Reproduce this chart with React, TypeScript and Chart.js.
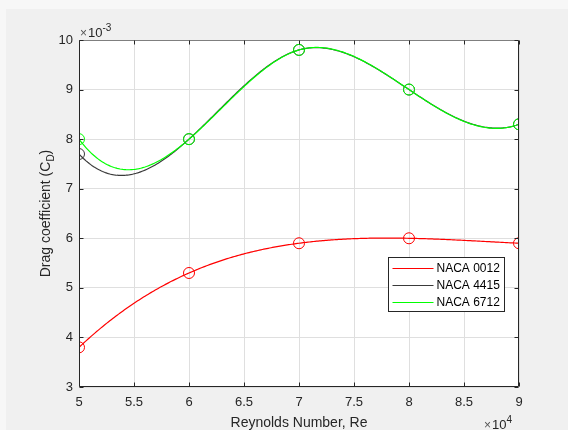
import React, { useEffect, useRef } from "react";
import { Chart, registerables } from "chart.js";

Chart.register(...registerables);

// ---- data ----
const reynoldsNumbers = [50000, 60000, 70000, 80000, 90000];
const cdNaca0012 = [0.0038, 0.0053, 0.0059, 0.006, 0.0059];
const cdNaca4415 = [0.0077, 0.008, 0.0098, 0.009, 0.0083];
const cdNaca6712 = [0.008, 0.008, 0.0098, 0.009, 0.0083];
const seriesLabels = ["NACA 0012", "NACA 4415", "NACA 6712"];
const seriesValues = [cdNaca0012, cdNaca4415, cdNaca6712];
const seriesColors = ["#ff0000", "#3a3a3a", "#00ff00"];

const xMin = 50000;
const xMax = 90000;
const xStep = 5000;
const yMin = 0.003;
const yMax = 0.01;
const yStep = 0.001;
const xScaleFactor = 1e4;
const yScaleFactor = 1e-3;
const xExponent = "4";
const yExponent = "-3";
const xTitle = "Reynolds Number, Re";
const yTitleMain = "Drag coefficient (C";
const yTitleSub = "D";
const yTitleEnd = ")";

const FONT = '"Liberation Sans", Arial, Helvetica, sans-serif';
const TEXT = "#262626";

// not-a-knot cubic spline (as MATLAB's spline), second derivatives
function splineSecondDerivs(xs: number[], ys: number[]): number[] {
  const n = xs.length;
  const h: number[] = [];
  for (let i = 0; i < n - 1; i++) h.push(xs[i + 1] - xs[i]);
  const A: number[][] = [];
  const b: number[] = [];
  for (let i = 0; i < n; i++) {
    A.push(new Array(n).fill(0));
    b.push(0);
  }
  if (n >= 4) {
    A[0][0] = -h[1];
    A[0][1] = h[0] + h[1];
    A[0][2] = -h[0];
    A[n - 1][n - 3] = -h[n - 2];
    A[n - 1][n - 2] = h[n - 3] + h[n - 2];
    A[n - 1][n - 1] = -h[n - 3];
  } else {
    A[0][0] = 1;
    A[n - 1][n - 1] = 1;
  }
  for (let i = 1; i < n - 1; i++) {
    A[i][i - 1] = h[i - 1];
    A[i][i] = 2 * (h[i - 1] + h[i]);
    A[i][i + 1] = h[i];
    b[i] = 6 * ((ys[i + 1] - ys[i]) / h[i] - (ys[i] - ys[i - 1]) / h[i - 1]);
  }
  for (let c = 0; c < n; c++) {
    let p = c;
    for (let r = c + 1; r < n; r++) if (Math.abs(A[r][c]) > Math.abs(A[p][c])) p = r;
    [A[c], A[p]] = [A[p], A[c]];
    [b[c], b[p]] = [b[p], b[c]];
    for (let r = c + 1; r < n; r++) {
      const f = A[r][c] / A[c][c];
      if (f === 0) continue;
      for (let k = c; k < n; k++) A[r][k] -= f * A[c][k];
      b[r] -= f * b[c];
    }
  }
  const M = new Array(n).fill(0);
  for (let r = n - 1; r >= 0; r--) {
    let s = b[r];
    for (let k = r + 1; k < n; k++) s -= A[r][k] * M[k];
    M[r] = s / A[r][r];
  }
  return M;
}

function splineAt(xs: number[], ys: number[], M: number[], x: number): number {
  let i = 0;
  while (i < xs.length - 2 && x > xs[i + 1]) i++;
  const h = xs[i + 1] - xs[i];
  const a = xs[i + 1] - x;
  const bb = x - xs[i];
  return (
    (M[i] * a * a * a) / (6 * h) +
    (M[i + 1] * bb * bb * bb) / (6 * h) +
    (ys[i] / h - (M[i] * h) / 6) * a +
    (ys[i + 1] / h - (M[i + 1] * h) / 6) * bb
  );
}

const fmt = (v: number) => String(Math.round(v * 100) / 100);

const matlabPlugin = {
  id: "matlabLook",
  beforeDraw(chart: any) {
    const { ctx, chartArea: ca, width, height } = chart;
    ctx.save();
    ctx.fillStyle = "#f7f7f7";
    ctx.fillRect(0, 0, width, height);
    ctx.fillStyle = "#f0f0f0";
    ctx.fillRect(6, 9, width - 6, height - 9);
    ctx.fillStyle = "#ffffff";
    ctx.fillRect(ca.left, ca.top, ca.right - ca.left, ca.bottom - ca.top);
    ctx.restore();
  },
  beforeDatasetsDraw(chart: any) {
    const { ctx, chartArea: ca } = chart;
    const xs = chart.scales.x;
    const ys = chart.scales.y;
    ctx.save();
    ctx.beginPath();
    ctx.rect(ca.left, ca.top, ca.right - ca.left, ca.bottom - ca.top);
    ctx.clip();
    chart.data.datasets.forEach((ds: any) => {
      const px = ds.data.map((p: any) => p.x);
      const py = ds.data.map((p: any) => p.y);
      const M = splineSecondDerivs(px, py);
      ctx.beginPath();
      ctx.strokeStyle = ds.borderColor;
      ctx.lineWidth = 1.2;
      const x0 = px[0];
      const x1 = px[px.length - 1];
      const steps = 300;
      for (let s = 0; s <= steps; s++) {
        const xv = x0 + ((x1 - x0) * s) / steps;
        const yv = splineAt(px, py, M, xv);
        const X = xs.getPixelForValue(xv);
        const Y = ys.getPixelForValue(yv);
        if (s === 0) ctx.moveTo(X, Y);
        else ctx.lineTo(X, Y);
      }
      ctx.stroke();
    });
    ctx.restore();
  },
  afterDatasetsDraw(chart: any) {
    const { ctx, chartArea: ca } = chart;
    const xs = chart.scales.x;
    const ys = chart.scales.y;
    const L = Math.round(ca.left) + 0.5;
    const R = Math.round(ca.right) - 0.5;
    const T = Math.round(ca.top) + 0.5;
    const B = Math.round(ca.bottom) - 0.5;
    ctx.save();
    ctx.lineWidth = 1;
    ctx.strokeStyle = "#7f7f7f";
    ctx.beginPath();
    ctx.moveTo(L, T);
    ctx.lineTo(R, T);
    ctx.stroke();
    ctx.strokeStyle = TEXT;
    ctx.beginPath();
    ctx.moveTo(R, T);
    ctx.lineTo(R, B);
    ctx.lineTo(L, B);
    ctx.lineTo(L, T);
    ctx.stroke();
    const tl = 4;
    ctx.beginPath();
    xs.ticks.forEach((t: any) => {
      const X = Math.round(xs.getPixelForValue(t.value)) + 0.5;
      ctx.moveTo(X, B);
      ctx.lineTo(X, B - tl);
      ctx.moveTo(X, T);
      ctx.lineTo(X, T + tl);
    });
    ys.ticks.forEach((t: any) => {
      const Y = Math.round(ys.getPixelForValue(t.value)) + 0.5;
      ctx.moveTo(L, Y);
      ctx.lineTo(L + tl, Y);
      ctx.moveTo(R, Y);
      ctx.lineTo(R - tl, Y);
    });
    ctx.stroke();
    ctx.restore();
  },
  afterDraw(chart: any) {
    const { ctx, chartArea: ca } = chart;
    ctx.save();
    ctx.fillStyle = TEXT;
    // x title
    ctx.font = `14px ${FONT}`;
    ctx.textAlign = "center";
    ctx.textBaseline = "alphabetic";
    ctx.fillText(xTitle, (ca.left + ca.right) / 2, ca.bottom + 40);

    // y title rotated with subscript
    ctx.save();
    ctx.translate(ca.left - 34, (ca.top + ca.bottom) / 2);
    ctx.rotate(-Math.PI / 2);
    ctx.textAlign = "left";
    ctx.textBaseline = "alphabetic";
    const mainFont = `14px ${FONT}`;
    const subFont = `10px ${FONT}`;
    ctx.font = mainFont;
    const w1 = ctx.measureText(yTitleMain).width;
    const w3 = ctx.measureText(yTitleEnd).width;
    ctx.font = subFont;
    const w2 = ctx.measureText(yTitleSub).width;
    const total = w1 + w2 + w3;
    let x = -total / 2;
    const base = 5;
    ctx.font = mainFont;
    ctx.fillText(yTitleMain, x, base);
    x += w1;
    ctx.font = subFont;
    ctx.fillText(yTitleSub, x, base + 4);
    x += w2;
    ctx.font = mainFont;
    ctx.fillText(yTitleEnd, x, base);
    ctx.restore();

    // exponent labels
    const drawExp = (xLeft: number, baseY: number, exp: string) => {
      ctx.textAlign = "left";
      ctx.textBaseline = "alphabetic";
      ctx.fillStyle = "#555555";
      ctx.font = `12px ${FONT}`;
      ctx.fillText("\u00d7", xLeft, baseY);
      let xx = xLeft + ctx.measureText("\u00d7").width + 1;
      ctx.fillStyle = TEXT;
      ctx.font = `13px ${FONT}`;
      ctx.fillText("10", xx, baseY);
      xx += ctx.measureText("10").width;
      ctx.font = `10px ${FONT}`;
      ctx.fillText(exp, xx, baseY - 6);
    };
    drawExp(ca.left + 1, ca.top - 3, yExponent);
    drawExp(ca.right - 35, ca.bottom + 42, xExponent);

    // legend
    const lx = Math.round(ca.right) - 131 + 0.5;
    const ly = Math.round(ca.top) + 217 + 0.5;
    const lw = 116;
    const lh = 54;
    ctx.fillStyle = "#ffffff";
    ctx.fillRect(lx, ly, lw, lh);
    ctx.strokeStyle = TEXT;
    ctx.lineWidth = 1;
    ctx.strokeRect(lx, ly, lw, lh);
    ctx.font = `12px ${FONT}`;
    ctx.textBaseline = "middle";
    ctx.textAlign = "left";
    chart.data.datasets.forEach((ds: any, i: number) => {
      const yy = Math.round(ly + 10 + i * 17) + 0.5;
      ctx.strokeStyle = ds.borderColor;
      ctx.lineWidth = 1.2;
      ctx.beginPath();
      ctx.moveTo(lx + 4, yy);
      ctx.lineTo(lx + 45, yy);
      ctx.stroke();
      ctx.fillStyle = "#000000";
      ctx.fillText(ds.label, lx + 48, yy + 0.5);
    });
    ctx.restore();
  },
};

export default function App() {
  const ref = useRef<HTMLCanvasElement | null>(null);
  useEffect(() => {
    if (!ref.current) return;
    const datasets = seriesLabels.map((label, i) => ({
      label,
      data: reynoldsNumbers.map((x, j) => ({ x, y: seriesValues[i][j] })),
      borderColor: seriesColors[i],
      backgroundColor: "rgba(0,0,0,0)",
      showLine: false,
      pointStyle: "circle",
      pointRadius: 5.5,
      pointBorderWidth: 1,
      pointBorderColor: seriesColors[i],
      pointBackgroundColor: "rgba(0,0,0,0)",
      order: seriesLabels.length - i,
    }));
    const chart = new Chart(ref.current, {
      type: "line",
      data: { datasets },
      options: {
        responsive: false,
        animation: false,
        devicePixelRatio: 1,
        events: [],
        layout: { padding: { left: 0, top: 40, right: 49, bottom: 0 } },
        plugins: {
          legend: { display: false },
          tooltip: { enabled: false },
          title: { display: false },
        },
        scales: {
          x: {
            type: "linear",
            min: xMin,
            max: xMax,
            ticks: {
              stepSize: xStep,
              callback: (v: any) => fmt(Number(v) / xScaleFactor),
              color: TEXT,
              font: { family: FONT, size: 13 },
              padding: 8,
              maxRotation: 0,
              autoSkip: false,
            },
            grid: { color: "#dfdfdf", drawTicks: false, lineWidth: 1 },
            border: { display: false },
            afterFit: (s: any) => {
              s.height = 43;
            },
          },
          y: {
            type: "linear",
            min: yMin,
            max: yMax,
            ticks: {
              stepSize: yStep,
              callback: (v: any) => fmt(Number(v) / yScaleFactor),
              color: TEXT,
              font: { family: FONT, size: 13 },
              padding: 6,
              autoSkip: false,
            },
            grid: { color: "#dfdfdf", drawTicks: false, lineWidth: 1 },
            border: { display: false },
            afterFit: (s: any) => {
              s.width = 79;
            },
          },
        },
      } as any,
      plugins: [matlabPlugin as any],
    });
    return () => chart.destroy();
  }, []);
  return (
    <div style={{ position: "fixed", left: 0, top: 0, width: 568, height: 430 }}>
      <canvas ref={ref} width={568} height={430} style={{ display: "block" }} />
    </div>
  );
}
